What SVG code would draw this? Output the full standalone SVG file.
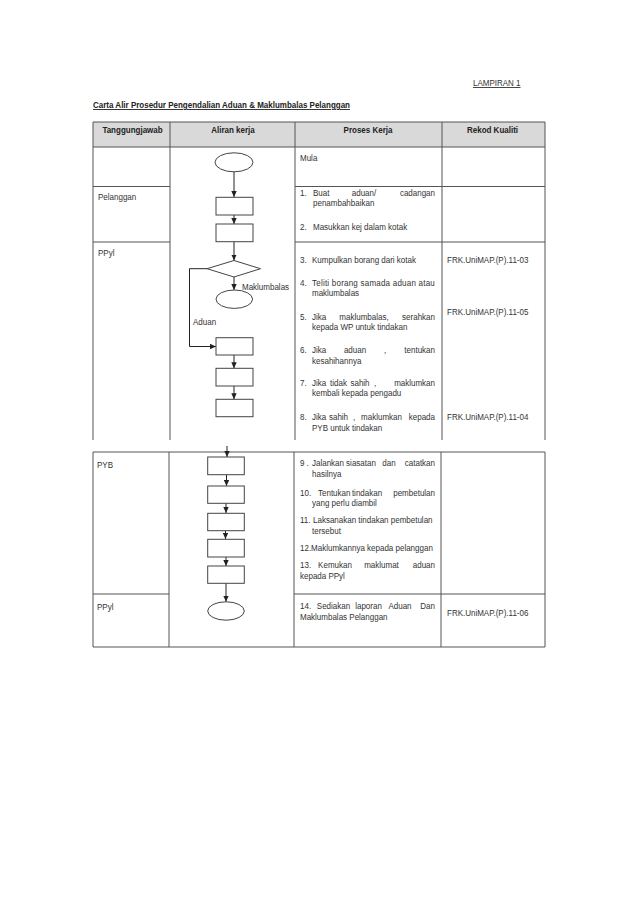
<svg xmlns="http://www.w3.org/2000/svg" width="638" height="903" viewBox="0 0 638 903">
<style>
.t{font-family:"Liberation Sans",Arial,sans-serif;font-size:9px;fill:#333}
.b{font-weight:bold;fill:#222}
.u{text-decoration:underline}
.m{text-anchor:middle}
.e{text-anchor:end}
.g{stroke:#555;stroke-width:1;fill:none}
.s{stroke:#444;stroke-width:1;fill:#fff}
.c{stroke:#222;stroke-width:1;fill:none}
</style>
<defs>
<marker id="ah" viewBox="0 0 10 10" refX="10" refY="5" markerWidth="6" markerHeight="6" orient="auto" markerUnits="userSpaceOnUse"><path d="M0,0.5 L10,5 L0,9.5 z" fill="#222"/></marker>
</defs>
<rect width="638" height="903" fill="#fff"/>

<!-- page header -->
<text class="t u" transform="translate(473 86) scale(.89 1)">LAMPIRAN 1</text>
<text class="t b u" transform="translate(93 108) scale(.89 1)">Carta Alir Prosedur Pengendalian Aduan &amp; Maklumbalas Pelanggan</text>

<!-- table grid -->
<g id="table">
<rect x="93" y="122" width="452" height="25" fill="#d9d9d9"/>
<path class="g" d="M93,122H545M93,147H545M93,122V440M170,122V440M295,122V440M442,122V440M545,122V440M93,186.5H170M295,186.5H545M93,242H170M295,242H545"/>
<path class="g" d="M93,452H545M93,647H545M93,452V647M169,452V647M294,452V647M441,452V647M545,452V647M93,594H169M294,594H545"/>
<text class="t b m" transform="translate(132.5 133) scale(.89 1)">Tanggungjawab</text>
<text class="t b m" transform="translate(233 133) scale(.89 1)">Aliran kerja</text>
<text class="t b m" transform="translate(368 133) scale(.89 1)">Proses Kerja</text>
<text class="t b m" transform="translate(492.5 133) scale(.89 1)">Rekod Kualiti</text>
</g>

<!-- responsibility column -->
<g id="resp">
<text class="t" transform="translate(98 200) scale(.89 1)">Pelanggan</text>
<text class="t" transform="translate(98 256) scale(.89 1)">PPyl</text>
<text class="t" transform="translate(97 468) scale(.89 1)">PYB</text>
<text class="t" transform="translate(97 610) scale(.89 1)">PPyl</text>
</g>

<!-- connectors -->
<g id="connectors">
<path class="c" d="M234,172V197" marker-end="url(#ah)"/>
<path class="c" d="M234,215V224" marker-end="url(#ah)"/>
<path class="c" d="M234,242V260.5" marker-end="url(#ah)"/>
<path class="c" d="M234,277V290" marker-end="url(#ah)"/>
<path class="c" d="M207,268.7H189.5V346.5H216" marker-end="url(#ah)"/>
<path class="c" d="M234,355V368.3" marker-end="url(#ah)"/>
<path class="c" d="M234,386V399.3" marker-end="url(#ah)"/>
<path class="c" d="M227,446V457" marker-end="url(#ah)"/>
<path class="c" d="M226.5,475V486" marker-end="url(#ah)"/>
<path class="c" d="M226,503V513" marker-end="url(#ah)"/>
<path class="c" d="M225.5,531V539" marker-end="url(#ah)"/>
<path class="c" d="M226,557V566" marker-end="url(#ah)"/>
<path class="c" d="M226,583V601.8" marker-end="url(#ah)"/>
<text class="t" transform="translate(242 290) scale(.89 1)">Maklumbalas</text>
<text class="t" transform="translate(193 325) scale(.89 1)">Aduan</text>
</g>

<!-- flowchart nodes -->
<g id="start"><ellipse class="s" cx="234" cy="162.3" rx="19" ry="9.5"/></g>
<g id="step1"><rect class="s" x="216" y="197.3" width="37" height="17.7"/></g>
<g id="step2"><rect class="s" x="216" y="224" width="37" height="17.7"/></g>
<g id="decision"><polygon class="s" points="234,260.5 260.5,268.7 234,277 207,268.7"/></g>
<g id="end1"><ellipse class="s" cx="234.3" cy="299.2" rx="18.3" ry="9.2"/></g>
<g id="step6"><rect class="s" x="216" y="337.7" width="37" height="17.3"/></g>
<g id="step7"><rect class="s" x="216" y="368.3" width="37" height="17.7"/></g>
<g id="step8"><rect class="s" x="216" y="399.3" width="37" height="17.4"/></g>
<g id="step9"><rect class="s" x="207.7" y="457" width="36.6" height="17.7"/></g>
<g id="step10"><rect class="s" x="207.7" y="486" width="36.6" height="17.3"/></g>
<g id="step11"><rect class="s" x="207.7" y="513.3" width="36.6" height="17.4"/></g>
<g id="step12"><rect class="s" x="207.7" y="539.3" width="36.6" height="17.7"/></g>
<g id="step13"><rect class="s" x="207.7" y="566" width="36.6" height="17.3"/></g>
<g id="end2"><ellipse class="s" cx="226" cy="611" rx="18.3" ry="9.2"/></g>

<!-- process column -->
<g id="process">
<text class="t" transform="translate(300 161) scale(.89 1)">Mula</text>
<text class="t" transform="translate(300 196) scale(.89 1)">1.</text>
<text class="t" transform="translate(313 196) scale(.89 1)">Buat</text>
<text class="t m" transform="translate(364 196) scale(.89 1)">aduan/</text>
<text class="t e" transform="translate(435 196) scale(.89 1)">cadangan</text>
<text class="t" transform="translate(313 206) scale(.89 1)">penambahbaikan</text>
<text class="t" transform="translate(300 230) scale(.89 1)">2.</text>
<text class="t" transform="translate(313 230) scale(.89 1)">Masukkan kej dalam kotak</text>
<text class="t" transform="translate(300 263) scale(.89 1)">3.</text>
<text class="t" transform="translate(312 263) scale(.89 1)">Kumpulkan borang dari kotak</text>
<text class="t" transform="translate(300 286) scale(.89 1)">4.</text>
<text class="t" transform="translate(312 286) scale(.89 1)" textLength="138" lengthAdjust="spacing">Teliti borang samada aduan atau</text>
<text class="t" transform="translate(312 296) scale(.89 1)">maklumbalas</text>
<text class="t" transform="translate(300 320) scale(.89 1)">5.</text>
<text class="t" transform="translate(312 320) scale(.89 1)">Jika</text>
<text class="t m" transform="translate(364 320) scale(.89 1)">maklumbalas,</text>
<text class="t e" transform="translate(435 320) scale(.89 1)">serahkan</text>
<text class="t" transform="translate(312 330) scale(.89 1)">kepada WP untuk tindakan</text>
<text class="t" transform="translate(300 353) scale(.89 1)">6.</text>
<text class="t" transform="translate(312 353) scale(.89 1)">Jika</text>
<text class="t m" transform="translate(355 353) scale(.89 1)">aduan</text>
<text class="t m" transform="translate(385 353) scale(.89 1)">,</text>
<text class="t e" transform="translate(435 353) scale(.89 1)">tentukan</text>
<text class="t" transform="translate(312 364) scale(.89 1)">kesahihannya</text>
<text class="t" transform="translate(300 386) scale(.89 1)">7.</text>
<text class="t" transform="translate(312 386) scale(.89 1)">Jika</text>
<text class="t m" transform="translate(338.5 386) scale(.89 1)">tidak</text>
<text class="t m" transform="translate(360 386) scale(.89 1)">sahih</text>
<text class="t m" transform="translate(375 386) scale(.89 1)">,</text>
<text class="t e" transform="translate(435 386) scale(.89 1)">maklumkan</text>
<text class="t" transform="translate(312 396) scale(.89 1)">kembali kepada pengadu</text>
<text class="t" transform="translate(300 420) scale(.89 1)">8.</text>
<text class="t" transform="translate(312 420) scale(.89 1)">Jika</text>
<text class="t m" transform="translate(338.5 420) scale(.89 1)">sahih</text>
<text class="t m" transform="translate(354 420) scale(.89 1)">,</text>
<text class="t m" transform="translate(381.5 420) scale(.89 1)">maklumkan</text>
<text class="t e" transform="translate(435 420) scale(.89 1)">kepada</text>
<text class="t" transform="translate(312 431) scale(.89 1)">PYB untuk tindakan</text>

<text class="t" transform="translate(300 466) scale(.89 1)">9</text>
<text class="t" transform="translate(306.5 466) scale(.89 1)">.</text>
<text class="t" transform="translate(312 466) scale(.89 1)">Jalankan</text>
<text class="t m" transform="translate(361 466) scale(.89 1)">siasatan</text>
<text class="t m" transform="translate(389 466) scale(.89 1)">dan</text>
<text class="t e" transform="translate(435 466) scale(.89 1)">catatkan</text>
<text class="t" transform="translate(312 477) scale(.89 1)">hasilnya</text>
<text class="t" transform="translate(300 496) scale(.89 1)">10.</text>
<text class="t" transform="translate(318 496) scale(.89 1)">Tentukan</text>
<text class="t m" transform="translate(367 496) scale(.89 1)">tindakan</text>
<text class="t e" transform="translate(435 496) scale(.89 1)">pembetulan</text>
<text class="t" transform="translate(312 506) scale(.89 1)">yang perlu diambil</text>
<text class="t" transform="translate(300 523) scale(.89 1)">11.</text>
<text class="t" transform="translate(313 523) scale(.89 1)">Laksanakan tindakan pembetulan</text>
<text class="t" transform="translate(312 534) scale(.89 1)">tersebut</text>
<text class="t" transform="translate(300 551) scale(.89 1)">12.Maklumkannya kepada pelanggan</text>
<text class="t" transform="translate(300 568) scale(.89 1)">13.</text>
<text class="t m" transform="translate(335 568) scale(.89 1)">Kemukan</text>
<text class="t m" transform="translate(381.5 568) scale(.89 1)">maklumat</text>
<text class="t e" transform="translate(435 568) scale(.89 1)">aduan</text>
<text class="t" transform="translate(300 579) scale(.89 1)">kepada PPyl</text>
<text class="t" transform="translate(300 609) scale(.89 1)">14.</text>
<text class="t m" transform="translate(333.5 609) scale(.89 1)">Sediakan</text>
<text class="t m" transform="translate(368.5 609) scale(.89 1)">laporan</text>
<text class="t m" transform="translate(400 609) scale(.89 1)">Aduan</text>
<text class="t e" transform="translate(435 609) scale(.89 1)">Dan</text>
<text class="t" transform="translate(300 620) scale(.89 1)">Maklumbalas Pelanggan</text>
</g>

<!-- record column -->
<g id="records">
<text class="t" transform="translate(447 263) scale(.89 1)">FRK.UniMAP.(P).11-03</text>
<text class="t" transform="translate(447 315) scale(.89 1)">FRK.UniMAP.(P).11-05</text>
<text class="t" transform="translate(447 420) scale(.89 1)">FRK.UniMAP.(P).11-04</text>
<text class="t" transform="translate(447 616) scale(.89 1)">FRK.UniMAP.(P).11-06</text>
</g>
</svg>
